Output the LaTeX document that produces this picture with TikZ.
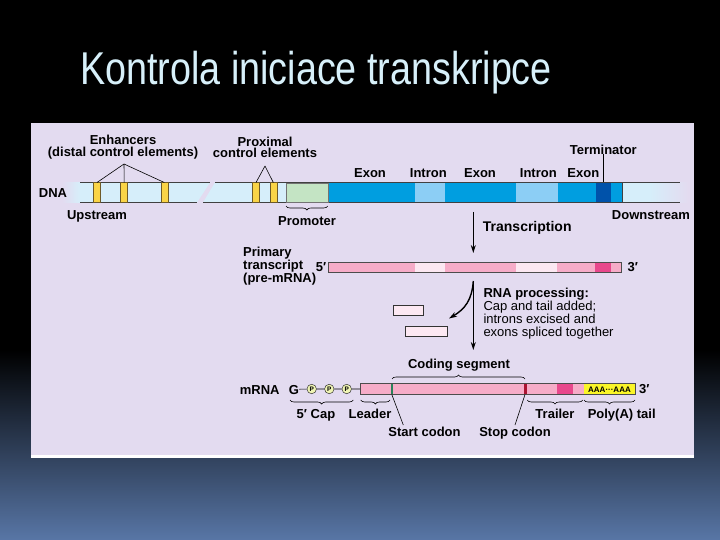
\documentclass[tikz,border=0pt]{standalone}
\usepackage{fontspec}
\setmainfont{Liberation Sans}
\newfontfamily\titlefont[FakeStretch=0.82]{Liberation Sans}
\usetikzlibrary{positioning,arrows.meta,decorations.pathreplacing,calc}
\definecolor{panel}{RGB}{227,219,240}
\definecolor{dnalight}{RGB}{214,238,250}
\definecolor{exonblue}{RGB}{0,158,224}
\definecolor{intronblue}{RGB}{140,206,245}
\definecolor{termblue}{RGB}{0,82,170}
\definecolor{enhyellow}{RGB}{250,212,70}
\definecolor{barbrown}{RGB}{110,90,40}
\definecolor{promgreen}{RGB}{196,228,196}
\definecolor{rnapink}{RGB}{246,172,200}
\definecolor{rnalight}{RGB}{252,232,242}
\definecolor{rnadark}{RGB}{232,72,140}
\definecolor{polyyellow}{RGB}{250,245,40}
\definecolor{startgreen}{RGB}{40,130,90}
\definecolor{stopred}{RGB}{170,20,50}
\definecolor{capyellow}{RGB}{240,245,180}
\definecolor{titlecyan}{RGB}{215,240,250}
\definecolor{slateblue}{RGB}{88,118,166}

\tikzset{
  mlbl/.style={font=\bfseries\fontsize{13}{11.5}\selectfont, inner sep=0pt, align=center},
  lbl/.style={mlbl, text height=9.4pt, text depth=0pt},
  heavy/.style={font=\bfseries\fontsize{14}{13}\selectfont, inner sep=0pt},
  thinline/.style={draw=black, line width=0.6pt},
  dnaline/.style={draw=black!75, line width=0.7pt},
  enhbar/.style={fill=enhyellow, draw=barbrown, line width=0.5pt,
                 minimum width=7pt, minimum height=19.5pt, inner sep=0pt},
  promobox/.style={fill=promgreen, draw=black!55, line width=0.4pt,
                   minimum height=19.5pt, inner sep=0pt},
  rnabar/.style={draw=black!70, line width=0.6pt, inner sep=0pt},
  intronbox/.style={fill=rnalight, draw=black!80, line width=0.6pt, inner sep=0pt},
  pcirc/.style={circle, draw=black!80, fill=capyellow, line width=0.5pt, minimum size=9.5pt,
                inner sep=0pt, font=\bfseries\fontsize{6.5}{6.5}\selectfont},
  arrowline/.style={line width=1pt, -{Stealth[length=8pt,width=5pt]}},
  brace/.style={decorate, decoration={brace, amplitude=4pt}, line width=0.6pt},
  bracedown/.style={decorate, decoration={brace, amplitude=4pt, mirror}, line width=0.6pt}
}

\begin{document}
\begin{tikzpicture}[x=1pt,y=-1pt]
  \useasboundingbox (0,0) rectangle (720,540);
  % slide background
  \fill[black] (0,0) rectangle (720,351);
  \shade[top color=black, bottom color=slateblue] (0,350) rectangle (720,540);
  \node[anchor=base west, inner sep=0pt, text=titlecyan,
        font=\titlefont\fontsize{46}{50}\selectfont] (title) at (80,85)
    {Kontrola iniciace transkripce};
  % panel
  \fill[panel] (31,123) rectangle (694,455);
  \fill[white] (31,455) rectangle (694,458);

  % DNA strand
  \shade[left color=panel, right color=dnalight] (62,182.5) rectangle (80.2,202.5);
  \fill[dnalight] (80,182.5) -- (210,182.5) -- (197,202.5) -- (80,202.5) -- cycle;
  \fill[dnalight] (215,182.5) -- (650.2,182.5) -- (650.2,202.5) -- (203,202.5) -- cycle;
  \shade[left color=dnalight, right color=panel] (650,182.5) rectangle (688,202.5);
  \foreach \a/\b/\c in {327.7/415/exonblue, 415/445/intronblue, 445/516/exonblue,
                        516/558.3/intronblue, 558.3/596/exonblue, 596/610.7/termblue,
                        610.7/622.3/exonblue}
    \fill[\c] (\a,182.5) rectangle (\b,202.5);
  \draw[dnaline] (80,182.5) -- (210,182.5) (80,202.5) -- (197,202.5)
                 (215,182.5) -- (680,182.5) (203,202.5) -- (680,202.5)
                 (622.3,182.5) -- (622.3,202.5);

  % enhancers, proximal elements, promoter
  \foreach \n/\x in {1/97, 2/124.2, 3/164.3}
    \node[enhbar] (enh\n) at (\x,192.5) {};
  \foreach \n/\x in {1/256, 2/273.3}
    \node[enhbar] (prox\n) at (\x,192.5) {};
  \node[promobox, minimum width=41.7pt] (promoter) at (306.9,192.5) {};

  \node[mlbl] (enhlbl) at (123,147.3) {Enhancers\\(distal control elements)};
  \coordinate (enhfork) at (124,164);
  \foreach \n in {1,2,3}
    \draw[thinline] (enhfork) -- (enh\n.north);
  \node[mlbl] (proxlbl) at (265,147.3) {Proximal\\control elements};
  \coordinate (proxfork) at (265,166);
  \foreach \n in {1,2}
    \draw[thinline] (proxfork) -- (prox\n.north);

  \node[lbl] (dnalbl) at (53,192.5) {DNA};
  \node[lbl] (upstream) at (97,215) {Upstream};
  \node[lbl] (downstream) at (651,215) {Downstream};
  \draw[bracedown] (286,206) -- (327.7,206);
  \node[lbl] (promlbl) at (307,221) {Promoter};

  \foreach \t/\x [count=\i] in {Exon/370, Intron/428.3, Exon/480, Intron/538.3, Exon/583.3}
    \node[lbl] (seg\i) at (\x,173) {\t};
  \node[lbl] (termlbl) at (603.3,149.5) {Terminator};
  \coordinate (termpt) at (603.3,182.5);
  \draw[thinline] (termlbl.south) -- (termpt);

  % transcription
  \coordinate (trtop) at (473.3,212);
  \coordinate (trbot) at (473.3,253);
  \draw[arrowline] (trtop) -- (trbot);
  \node[heavy, anchor=west] (trlbl) at (482.7,228.3) {Transcription};

  % primary transcript
  \foreach \a/\b/\c in {328.3/415/rnapink, 415/445/rnalight, 445/516/rnapink,
                        516/557.3/rnalight, 557.3/595/rnapink, 595/611/rnadark,
                        611/621.7/rnapink}
    \fill[\c] (\a,262.3) rectangle (\b,272.3);
  \node[rnabar, minimum width=293.4pt, minimum height=10pt] (premrna) at (475,267.3) {};
  \node[lbl, anchor=east] (five1) at (326.5,266.5) {5′};
  \node[lbl, anchor=west] (three1) at (627.5,266.5) {3′};
  \node[mlbl, anchor=west, align=left] (primlbl) at (243,266) {Primary\\transcript\\(pre-mRNA)};

  % RNA processing
  \node[intronbox, minimum width=30pt, minimum height=10pt] (exc1) at (408.3,310) {};
  \node[intronbox, minimum width=42.3pt, minimum height=10.7pt] (exc2) at (426.2,331.3) {};
  \coordinate (proctop) at (473.3,281);
  \coordinate (procbot) at (473.3,350);
  \coordinate (procside) at (449,318.5);
  \draw[arrowline] (proctop) -- (procbot);
  \draw[arrowline, line width=1.4pt] (proctop) .. controls (472,300) and (465,309) .. (procside);
  \node[anchor=north west, inner sep=0pt, align=left, font=\fontsize{13}{13}\selectfont]
    (proclbl) at (483.3,288)
    {{\bfseries RNA processing:}\\Cap and tail added;\\introns excised and\\exons spliced together};

  % mature mRNA
  \node[lbl] (mrnalbl) at (259.7,389.3) {mRNA};
  \node[lbl] (gcap) at (294,389.3) {G};
  \foreach \i/\x in {1/311.7, 2/329.3, 3/346.7}
    \node[pcirc] (p\i) at (\x,389) {P};
  \coordinate (mstart) at (360,389);
  \draw[thinline] (gcap) -- (p1) -- (p2) -- (p3) -- (mstart);
  \foreach \a/\b/\c in {360/556.7/rnapink, 556.7/572.7/rnadark, 572.7/584/rnapink,
                        584/635/polyyellow}
    \fill[\c] (\a,383.5) rectangle (\b,394.5);
  \fill[startgreen] (390.7,383.5) rectangle (393,394.5);
  \fill[stopred] (523.5,383.5) rectangle (526.5,394.5);
  \node[rnabar, minimum width=275pt, minimum height=11pt] (mrna) at (497.5,389) {};
  \node[font=\bfseries\fontsize{8}{8}\selectfont, inner sep=0pt] (polya) at (609.5,389.3) {AAA···AAA};
  \node[lbl, anchor=west] (three2) at (639,389) {3′};

  \draw[brace] (392,379) -- (525,379);
  \node[lbl] (codlbl) at (459,364) {Coding segment};
  \draw[bracedown] (290,400) -- (353.3,400);
  \node[lbl] (caplbl) at (316,413.3) {5′ Cap};
  \draw[bracedown] (360.7,400) -- (390,400);
  \node[lbl] (leadlbl) at (370,413.3) {Leader};
  \draw[bracedown] (527.3,400) -- (582.7,400);
  \node[lbl] (traillbl) at (555,413.3) {Trailer};
  \draw[bracedown] (584,400) -- (635,400);
  \node[lbl] (polylbl) at (621.7,413.3) {Poly(A) tail};

  \coordinate (startpt) at (391.8,394.5);
  \coordinate (startend) at (403.3,425);
  \draw[thinline] (startpt) -- (startend);
  \node[lbl] (startlbl) at (424.5,431.7) {Start codon};
  \coordinate (stoppt) at (525,394.5);
  \coordinate (stopend) at (515,425);
  \draw[thinline] (stoppt) -- (stopend);
  \node[lbl] (stoplbl) at (515,431.7) {Stop codon};
\end{tikzpicture}
\end{document}
